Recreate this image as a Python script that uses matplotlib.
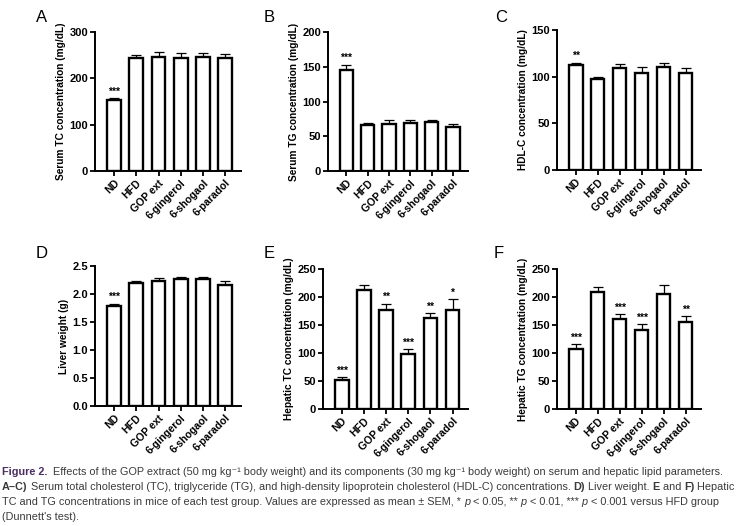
import numpy as np
import matplotlib
matplotlib.use('Agg')
import matplotlib.pyplot as plt
import matplotlib.ticker as mticker

plt.rcParams['font.family'] = ['Liberation Sans', 'DejaVu Sans']

groups = ['ND', 'HFD', 'GOP ext', '6-gingerol', '6-shogaol', '6-paradol']

# values (mean, SEM)
serum_tc = [153, 244, 246, 243, 245, 243]
serum_tc_err = [4, 7, 10, 11, 10, 9]
serum_tg = [146, 66, 68, 69, 70, 63]
serum_tg_err = [7, 3, 5, 4, 3, 4]
hdl_c = [112, 97, 109, 104, 110, 104]
hdl_c_err = [3, 3, 5, 6, 5, 5]
liver_wt = [1.79, 2.19, 2.23, 2.26, 2.26, 2.16]
liver_wt_err = [0.04, 0.04, 0.06, 0.05, 0.05, 0.07]
hep_tc = [51, 213, 177, 98, 162, 177]
hep_tc_err = [6, 8, 11, 9, 9, 19]
hep_tg = [107, 209, 160, 141, 205, 155]
hep_tg_err = [9, 8, 10, 10, 16, 11]

sig_a = ['***', '', '', '', '', '']
sig_b = ['***', '', '', '', '', '']
sig_c = ['**', '', '', '', '', '']
sig_d = ['***', '', '', '', '', '']
sig_e = ['***', '', '**', '***', '**', '*']
sig_f = ['***', '', '***', '***', '', '**']

W, H = 740, 526
fig = plt.figure(figsize=(W / 100, H / 100), dpi=100)


def box(left, right, top, bottom):
    return [left / W, 1 - bottom / H, (right - left) / W, (bottom - top) / H]


# letter, axes rect, letter position (px), data, stars, label, ymax, step, tick format
panels = [
    ('A', box(95, 241, 32, 171), (36, 17), serum_tc, serum_tc_err, sig_a, 'Serum TC concentration (mg/dL)', 300, 100, '%d'),
    ('B', box(328, 468, 32, 171), (264, 17), serum_tg, serum_tg_err, sig_b, 'Serum TG concentration (mg/dL)', 200, 50, '%d'),
    ('C', box(557, 701, 30, 170), (495, 17), hdl_c, hdl_c_err, sig_c, 'HDL-C concentration (mg/dL)', 150, 50, '%d'),
    ('D', box(95, 241, 266, 406), (36, 253), liver_wt, liver_wt_err, sig_d, 'Liver weight (g)', 2.5, 0.5, '%.1f'),
    ('E', box(323, 468, 269, 409), (264, 254), hep_tc, hep_tc_err, sig_e, 'Hepatic TC concentration (mg/dL)', 250, 50, '%d'),
    ('F', box(557, 701, 269, 409), (494, 254), hep_tg, hep_tg_err, sig_f, 'Hepatic TG concentration (mg/dL)', 250, 50, '%d'),
]

for letter, rect, lpos, vals, errs, sigs, ylab, ymax, step, fmt in panels:
    ax = fig.add_axes(rect)
    x = np.arange(len(groups))
    ax.bar(x, vals, width=0.62, color='white', edgecolor='black', linewidth=1.7, zorder=3)
    ax.errorbar(x, vals, yerr=[np.zeros(len(vals)), errs], fmt='none', ecolor='black',
                elinewidth=0.9, capsize=3.5, capthick=0.9, zorder=2)
    for xi, v, e, s in zip(x, vals, errs, sigs):
        if s:
            ax.text(xi, v + e + ymax * 0.01, s, ha='center', va='bottom', fontsize=7.5, fontweight='bold')
    ax.set_xlim(-0.85, 5.7)
    ax.set_ylim(0, ymax)
    ax.set_yticks(np.arange(0, ymax + step / 2, step))
    ax.yaxis.set_major_formatter(mticker.FormatStrFormatter(fmt))
    ax.set_xticks(x)
    ax.set_xticklabels(groups, rotation=45, ha='right', rotation_mode='anchor', fontsize=7.6, fontweight='bold')
    for lab in ax.get_yticklabels():
        lab.set_fontweight('bold')
        lab.set_fontsize(8)
    ax.tick_params(direction='out', width=1.3, length=3.5, pad=1.5)
    ax.spines['top'].set_visible(False)
    ax.spines['right'].set_visible(False)
    ax.spines['left'].set_linewidth(1.4)
    ax.spines['bottom'].set_linewidth(1.4)
    ax.set_ylabel(ylab, fontsize=7.3, fontweight='bold', labelpad=2.5)
    fig.text(lpos[0] / W, 1 - lpos[1] / H, letter, fontsize=12, ha='left', va='center')

# caption, drawn as runs of text so bold / italic parts sit inline
renderer = fig.canvas.get_renderer()
cap_color = '#3a3a3a'
cap_size = 7.8


def draw_runs(ypx, runs):
    xpx = 2
    for txt, weight, style, color in runs:
        t = fig.text(xpx / W, 1 - ypx / H, txt, fontsize=cap_size, fontweight=weight, fontstyle=style,
                     color=color, va='center', ha='left')
        xpx = t.get_window_extent(renderer).x1


N, B, I = 'normal', 'bold', 'italic'
draw_runs(472, [
    ('Figure 2.', B, N, '#4b2e63'),
    ('  Effects of the GOP extract (50 mg kg\u207b\u00b9 body weight) and its components '
     '(30 mg kg\u207b\u00b9 body weight) on serum and hepatic lipid parameters.', N, N, cap_color),
])
draw_runs(487, [
    ('A\u2013C)', B, N, cap_color),
    (' Serum total cholesterol (TC), triglyceride (TG), and high-density lipoprotein cholesterol '
     '(HDL-C) concentrations. ', N, N, cap_color),
    ('D)', B, N, cap_color),
    (' Liver weight. ', N, N, cap_color),
    ('E', B, N, cap_color),
    (' and ', N, N, cap_color),
    ('F)', B, N, cap_color),
    (' Hepatic', N, N, cap_color),
])
draw_runs(502, [
    ('TC and TG concentrations in mice of each test group. Values are expressed as mean \u00b1 SEM, * ', N, N, cap_color),
    ('p', N, I, cap_color),
    (' < 0.05, ** ', N, N, cap_color),
    ('p', N, I, cap_color),
    (' < 0.01, *** ', N, N, cap_color),
    ('p', N, I, cap_color),
    (' < 0.001 versus HFD group', N, N, cap_color),
])
draw_runs(517, [("(Dunnett's test).", N, N, cap_color)])

fig.savefig('out.png', dpi=100)
